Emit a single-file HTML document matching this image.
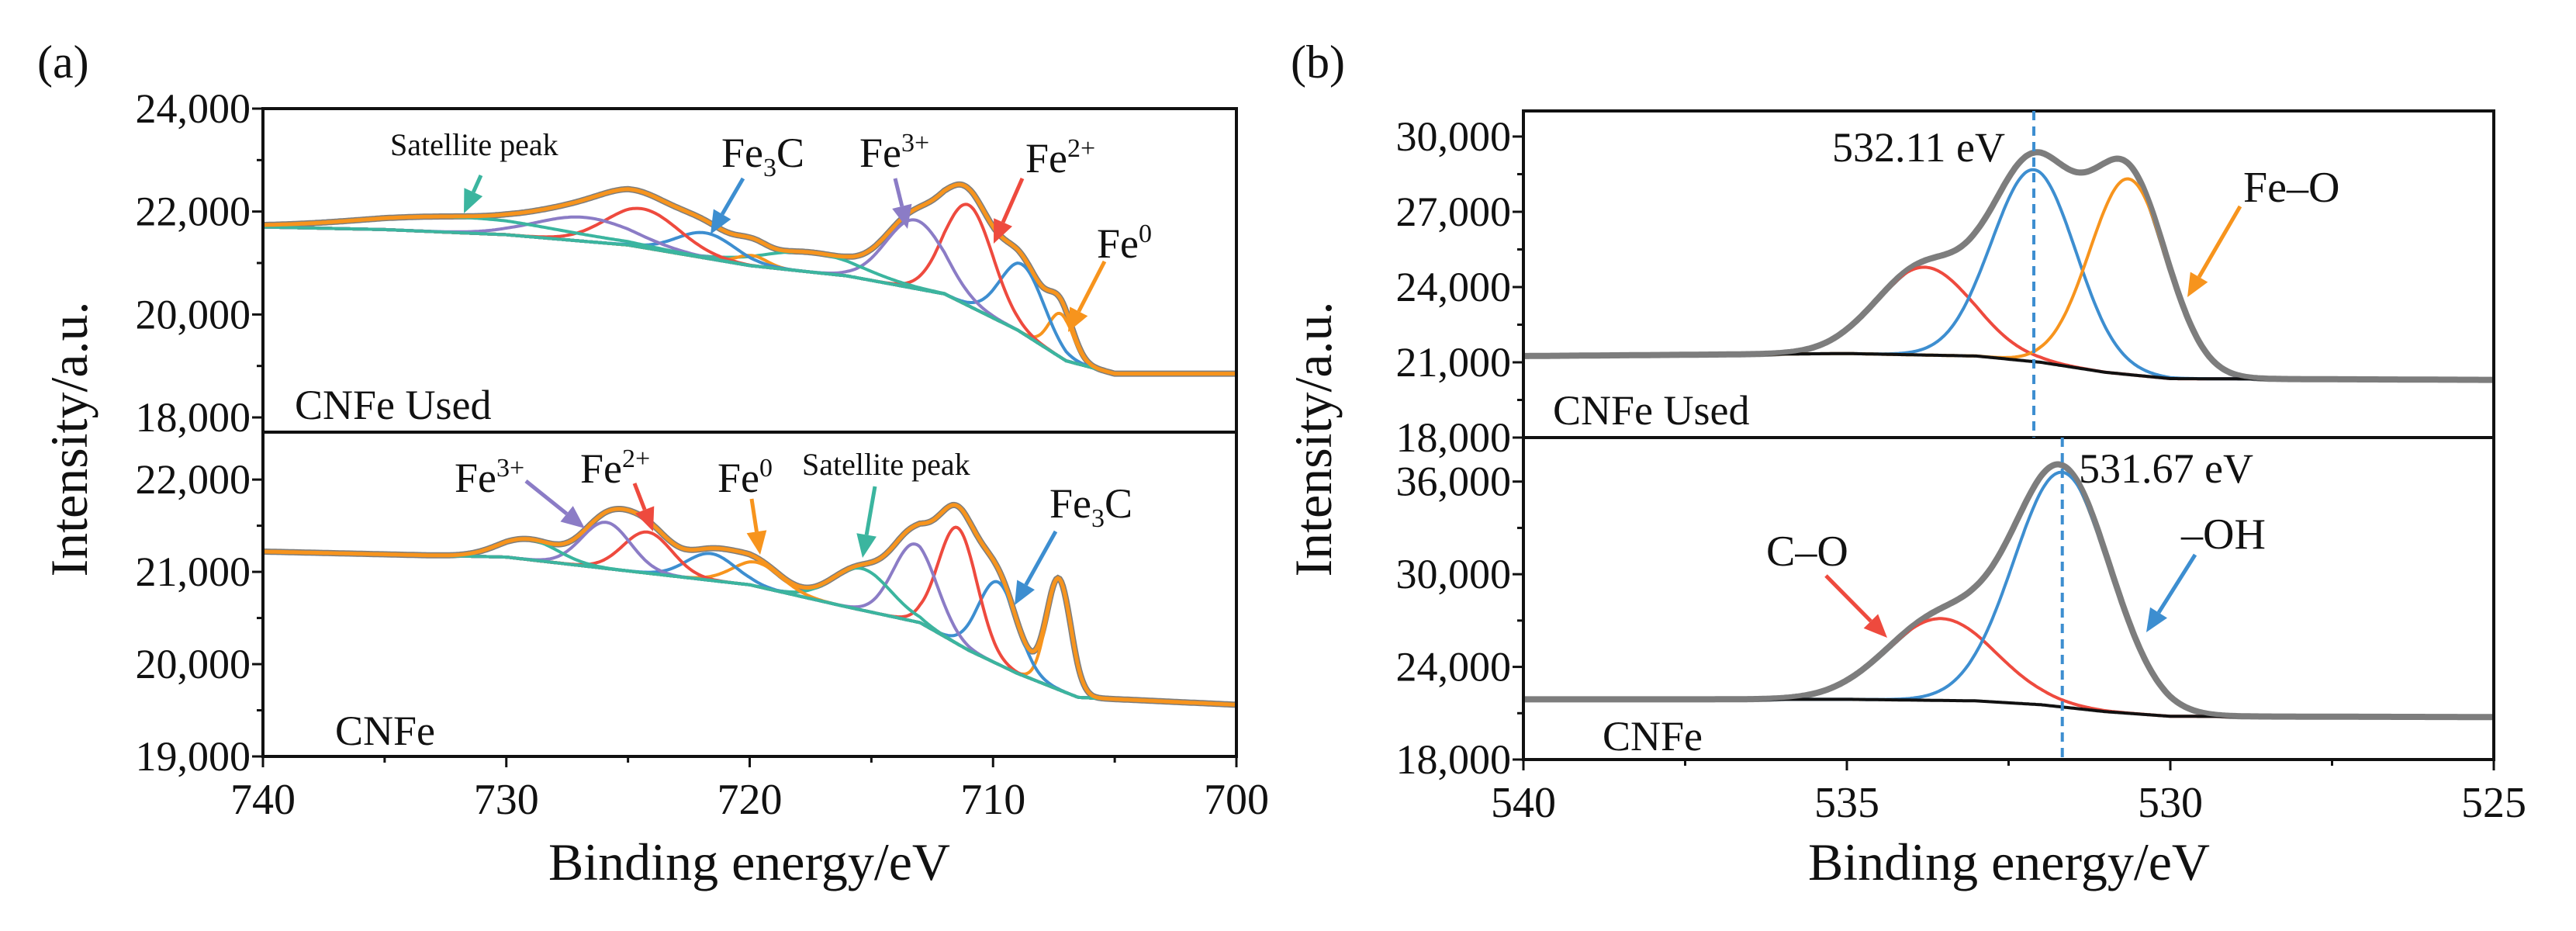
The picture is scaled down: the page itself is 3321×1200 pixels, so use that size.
<!DOCTYPE html>
<html><head><meta charset="utf-8">
<style>
html,body{margin:0;padding:0;background:#fff;}
svg{display:block;font-family:"Liberation Serif",serif;}
</style></head>
<body>
<svg id="fig" width="3321" height="1200" viewBox="0 0 3321 1200" xmlns="http://www.w3.org/2000/svg">
<rect width="3321" height="1200" fill="#fff"/>
<g id="layer"></g>
</svg>
<script>
// ---------- DATA ----------
const aTopBgEv  = [740,735,730,725,720,716,712,709,707,705,700];
const aTopBgVal = [21700,21650,21550,21350,20950,20750,20400,19700,19100,18850,18850];
const aTopCenters = [707.2,708.8,711.0,713.2,717.5,719.9,721.8,724.4,726.8,731.9];
const aTopHeights = [850,1330,1960,1330,380,200,490,750,465,300];
const aTopSigmas  = [0.5,0.9,1.0,1.2,2.0,0.6,1.2,1.5,2.0,4.0];
const aTopColors  = ["orange","blue","red","purple","teal","orange","blue","red","purple","teal"];
const aBotBgEv  = [740,730,720,716,713,711,709,706.5,700];
const aBotBgVal = [21220,21160,20860,20620,20450,20150,19900,19640,19560];
const aBotCenters = [707.3,709.8,711.45,713.2,715.4,719.7,721.6,724.2,725.9,729.1];
const aBotHeights = [1200,890,1260,840,450,260,290,445,500,220];
const aBotSigmas  = [0.5,0.8,0.8,0.9,1.2,1.0,1.0,1.0,1.0,1.2];
const aBotColors  = ["orange","blue","red","purple","teal","orange","blue","red","purple","teal"];
const bTopBgEv  = [540,535,533,532,531,530,525];
const bTopBgVal = [21250,21350,21250,21000,20600,20350,20300];
const bTopCenters = [533.8,532.11,530.65];
const bTopHeights = [3500,7650,7800];
const bTopSigmas  = [0.75,0.65,0.6];
const bTopColors  = ["red","blue","orange"];
const bBotBgEv  = [540,535,533,532,531,530,525];
const bBotBgVal = [21900,21900,21800,21550,21100,20800,20750];
const bBotCenters = [533.55,531.67];
const bBotHeights = [5300,15200];
const bBotSigmas  = [0.85,0.75];
const bBotColors  = ["red","blue"];
const aXTicks = [740,730,720,710,700];
const aTopYTicks = [18000,20000,22000,24000];
const aBotYTicks = [19000,20000,21000,22000];
const bXTicks = [540,535,530,525];
const bTopYTicks = [18000,21000,24000,27000,30000];
const bBotYTicks = [18000,24000,30000,36000];

const COL={orange:"#f7941d",blue:"#3d8ed0",red:"#ee4a3e",purple:"#8b7cc6",teal:"#3bb59f",gray:"#7d7d7d",black:"#111"};
const NS="http://www.w3.org/2000/svg";
const layer=document.getElementById('layer');
function el(tag,attrs,parent){const e=document.createElementNS(NS,tag);for(const k in attrs)e.setAttribute(k,attrs[k]);(parent||layer).appendChild(e);return e;}
function lin(d0,d1,r0,r1){return v=>r0+(v-d0)/(d1-d0)*(r1-r0);}
function interp(xs,ys,x){for(let i=0;i<xs.length-1;i++){const a=xs[i],b=xs[i+1];if((x<=a&&x>=b)||(x>=a&&x<=b)){const t=(x-a)/(b-a);return ys[i]+t*(ys[i+1]-ys[i]);}}return ys[ys.length-1];}
function fmt(v){return v.toLocaleString('en-US');}

function drawPanel(o){
  const g=el('g',{});
  
  
  const sx=lin(o.x0,o.x1,o.L,o.R), sy=lin(o.y0,o.y1,o.B,o.T);
  const N=600, evs=[];
  for(let i=0;i<=N;i++) evs.push(o.x0+(o.x1-o.x0)*i/N);
  const bg=evs.map(e=>interp(o.bgEv,o.bgVal,e));
  const comp=o.centers.map((c,k)=>evs.map((e,i)=>bg[i]+o.heights[k]*Math.exp(-0.5*((e-c)/o.sigmas[k])**2)));
  const env=evs.map((e,i)=>bg[i]+o.centers.reduce((s,c,k)=>s+o.heights[k]*Math.exp(-0.5*((e-c)/o.sigmas[k])**2),0));
  const path=arr=>arr.map((v,i)=>(i?'L':'M')+sx(evs[i]).toFixed(1)+','+sy(v).toFixed(1)).join('');
  const raw=el('path',{d:path(env),fill:'none',stroke:COL.gray,'stroke-width':8},g);
  
  comp.forEach((c,k)=>{const p=el('path',{d:path(c),fill:'none',stroke:COL[o.colors[k]],'stroke-width':4},g);
    });
  const b=el('path',{d:path(bg),fill:'none',stroke:o.bgColor,'stroke-width':4},g);
  
  const en=el('path',{d:path(env),fill:'none',stroke:o.envColor,'stroke-width':5},g);
  
  o.yTicks.forEach((t,i)=>{const y=sy(t);
    el('line',{x1:o.L-14,x2:o.L,y1:y,y2:y,stroke:'#111','stroke-width':3},g);
    if(i<o.yTicks.length-1){const ym=sy(t+(o.yTicks[1]-o.yTicks[0])/2);if(ym>o.T)el('line',{x1:o.L-8,x2:o.L,y1:ym,y2:ym,stroke:'#111','stroke-width':3},g);}
    const tx=el('text',{x:o.L-16,y:y+18,'font-size':54,'text-anchor':'end',fill:'#111'},g);tx.textContent=fmt(t);
    });
  return {sx,sy,g};
}
function frame(L,R,T,M,B,name){const f=el('g',{});
  el('rect',{x:L,y:T,width:R-L,height:B-T,fill:'none',stroke:'#111','stroke-width':4},f);
  el('line',{x1:L,x2:R,y1:M,y2:M,stroke:'#111','stroke-width':4},f);}

function xAxis(L,R,B,x0,x1,ticks,name){const sx=lin(x0,x1,L,R);const g=el('g',{});
  ticks.forEach((t,i)=>{const x=sx(t);el('line',{x1:x,x2:x,y1:B,y2:B+14,stroke:'#111','stroke-width':3},g);
    if(i<ticks.length-1){const xm=sx((t+ticks[i+1])/2);el('line',{x1:xm,x2:xm,y1:B,y2:B+8,stroke:'#111','stroke-width':3},g);}
    const tx=el('text',{x:x,y:B+74,'font-size':56,'text-anchor':'middle',fill:'#111'},g);tx.textContent=t;
    });}

function txt(x,y,s,size,name,anchor){const t=el('text',{x:x,y:y,'font-size':size,fill:'#111','text-anchor':anchor||'start'});t.innerHTML=s;
  return t;}
function arrow(x1,y1,x2,y2,c,name){const g=el('g',{});
  const a=Math.atan2(y2-y1,x2-x1),h=30,w=13;
  const bx=x2-h*Math.cos(a),by=y2-h*Math.sin(a);
  el('line',{x1:x1,y1:y1,x2:bx,y2:by,stroke:c,'stroke-width':5},g);
  el('polygon',{points:`${x2},${y2} ${bx+w*Math.sin(a)},${by-w*Math.cos(a)} ${bx-w*Math.sin(a)},${by+w*Math.cos(a)}`,fill:c},g);}

const aL=339,aR=1594,aT=140,aM=557,aB=975;
drawPanel({name:'panel-a-used',x0:740,x1:700,L:aL,R:aR,y0:17714,y1:24000,T:aT,B:aM,bgEv:aTopBgEv,bgVal:aTopBgVal,centers:aTopCenters,heights:aTopHeights,sigmas:aTopSigmas,colors:aTopColors,bgColor:COL.teal,envColor:COL.orange,yTicks:aTopYTicks});
drawPanel({name:'panel-a-fresh',x0:740,x1:700,L:aL,R:aR,y0:19000,y1:22514,T:aM,B:aB,bgEv:aBotBgEv,bgVal:aBotBgVal,centers:aBotCenters,heights:aBotHeights,sigmas:aBotSigmas,colors:aBotColors,bgColor:COL.teal,envColor:COL.orange,yTicks:aBotYTicks});
frame(aL,aR,aT,aM,aB,'panel-a-frame');
xAxis(aL,aR,aB,740,700,aXTicks,'panel-a-x-axis');

const bL=1964,bR=3215,bT=143,bM=564,bB=979;
drawPanel({name:'panel-b-used',x0:540,x1:525,L:bL,R:bR,y0:18000,y1:31020,T:bT,B:bM,bgEv:bTopBgEv,bgVal:bTopBgVal,centers:bTopCenters,heights:bTopHeights,sigmas:bTopSigmas,colors:bTopColors,bgColor:COL.black,envColor:COL.gray,yTicks:bTopYTicks});
drawPanel({name:'panel-b-fresh',x0:540,x1:525,L:bL,R:bR,y0:18000,y1:38850,T:bM,B:bB,bgEv:bBotBgEv,bgVal:bBotBgVal,centers:bBotCenters,heights:bBotHeights,sigmas:bBotSigmas,colors:bBotColors,bgColor:COL.black,envColor:COL.gray,yTicks:bBotYTicks});
frame(bL,bR,bT,bM,bB,'panel-b-frame');
xAxis(bL,bR,bB,540,525,bXTicks,'panel-b-x-axis');
const bsx=lin(540,525,bL,bR);
const d1=el('line',{x1:bsx(532.11),x2:bsx(532.11),y1:bT,y2:bM,stroke:COL.blue,'stroke-width':4,'stroke-dasharray':'12,8'});

const d2=el('line',{x1:bsx(531.67),x2:bsx(531.67),y1:bM,y2:bB,stroke:COL.blue,'stroke-width':4,'stroke-dasharray':'12,8'});


txt(48,100,'(a)',60,'panel-a-label');
txt(1664,100,'(b)',60,'panel-b-label');
txt(966,1134,'Binding energy/eV',68,'panel-a-x-title','middle');
txt(2590,1134,'Binding energy/eV',68,'panel-b-x-title','middle');
const ya=txt(0,0,'Intensity/a.u.',68,'panel-a-y-title','middle');ya.setAttribute('transform','translate(112,566) rotate(-90)');
const yb=txt(0,0,'Intensity/a.u.',68,'panel-b-y-title','middle');yb.setAttribute('transform','translate(1716,566) rotate(-90)');

txt(503,200,'Satellite peak',40,'label-satellite-used');
txt(930,215,'Fe<tspan font-size="34" dy="12">3</tspan><tspan dy="-12">C</tspan>',54,'label-fe3c-used');
txt(1108,215,'Fe<tspan font-size="34" dy="-20">3+</tspan>',54,'label-fe3-used');
txt(1322,222,'Fe<tspan font-size="34" dy="-20">2+</tspan>',54,'label-fe2-used');
txt(1414,332,'Fe<tspan font-size="34" dy="-20">0</tspan>',54,'label-fe0-used');
txt(380,540,'CNFe Used',54,'sample-label-used');
arrow(620,226,598,275,COL.teal,'arrow-satellite-used');
arrow(958,230,916,302,COL.blue,'arrow-fe3c-used');
arrow(1154,230,1170,295,COL.purple,'arrow-fe3-used');
arrow(1318,230,1281,314,COL.red,'arrow-fe2-used');
arrow(1424,337,1377,428,COL.orange,'arrow-fe0-used');
txt(586,634,'Fe<tspan font-size="34" dy="-20">3+</tspan>',54,'label-fe3-fresh');
txt(748,622,'Fe<tspan font-size="34" dy="-20">2+</tspan>',54,'label-fe2-fresh');
txt(925,634,'Fe<tspan font-size="34" dy="-20">0</tspan>',54,'label-fe0-fresh');
txt(1034,612,'Satellite peak',40,'label-satellite-fresh');
txt(1353,667,'Fe<tspan font-size="34" dy="12">3</tspan><tspan dy="-12">C</tspan>',54,'label-fe3c-fresh');
txt(432,960,'CNFe',54,'sample-label-fresh');
arrow(678,620,754,681,COL.purple,'arrow-fe3-fresh');
arrow(818,623,842,685,COL.red,'arrow-fe2-fresh');
arrow(969,643,980,715,COL.orange,'arrow-fe0-fresh');
arrow(1128,627,1112,719,COL.teal,'arrow-satellite-fresh');
arrow(1361,685,1308,780,COL.blue,'arrow-fe3c-fresh');
txt(2362,208,'532.11 eV',54,'label-532-11');
txt(2892,260,'Fe–O',56,'label-fe-o');
arrow(2888,266,2820,383,COL.orange,'arrow-fe-o');
txt(2002,547,'CNFe Used',54,'sample-label-b-used');
txt(2680,622,'531.67 eV',54,'label-531-67');
txt(2277,729,'C–O',56,'label-c-o');
arrow(2354,742,2433,822,COL.red,'arrow-c-o');
txt(2812,707,'–OH',56,'label-oh');
arrow(2830,715,2767,815,COL.blue,'arrow-oh');
txt(2066,967,'CNFe',54,'sample-label-b-fresh');
</script>
</body></html>
